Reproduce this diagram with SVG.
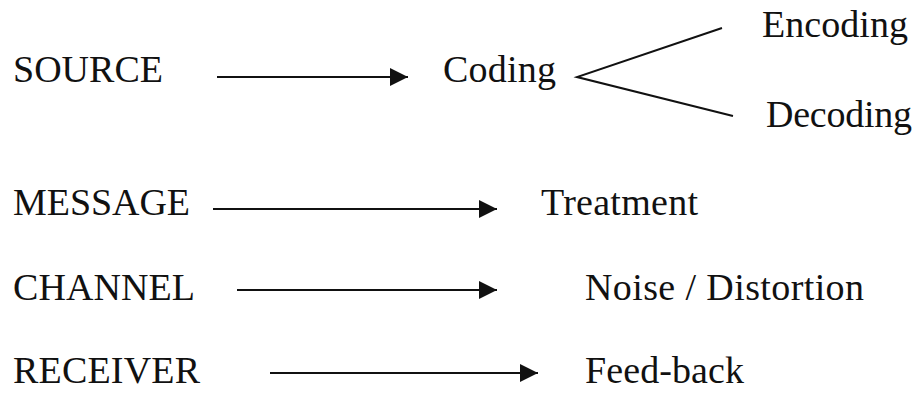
<svg xmlns="http://www.w3.org/2000/svg" width="919" height="397" viewBox="0 0 919 397">
<style>
text{font-family:"Liberation Serif","Times New Roman",serif;font-size:38px;fill:#111}
.c{stroke:#111;stroke-width:2;fill:none}
</style>
<defs>
<marker id="ah" markerWidth="18" markerHeight="18" refX="18" refY="9" orient="auto" markerUnits="userSpaceOnUse" viewBox="0 0 18 18">
<path d="M0,0 L18,9 L0,18 z" fill="#111"/>
</marker>
</defs>
<rect width="919" height="397" fill="#fff"/>
<g id="connectors">
<path class="c" d="M217,77 H408" marker-end="url(#ah)"/>
<path class="c" d="M213,209 H497" marker-end="url(#ah)"/>
<path class="c" d="M237,290 H497" marker-end="url(#ah)"/>
<path class="c" d="M270,373 H538" marker-end="url(#ah)"/>
<path class="c" d="M722,28 L577,77 L733,116"/>
</g>
<g id="source"><text x="13" y="82" textLength="150">SOURCE</text></g>
<g id="coding"><text x="443" y="82" textLength="113">Coding</text></g>
<g id="encoding"><text x="762" y="37" textLength="146">Encoding</text></g>
<g id="decoding"><text x="766" y="127" textLength="146">Decoding</text></g>
<g id="message"><text x="13" y="215" textLength="177">MESSAGE</text></g>
<g id="treatment"><text x="541" y="215" textLength="157">Treatment</text></g>
<g id="channel"><text x="13" y="300" textLength="182">CHANNEL</text></g>
<g id="noise"><text x="585" y="300" textLength="279">Noise / Distortion</text></g>
<g id="receiver"><text x="13" y="383" textLength="187">RECEIVER</text></g>
<g id="feedback"><text x="585" y="383" textLength="159">Feed-back</text></g>
</svg>
